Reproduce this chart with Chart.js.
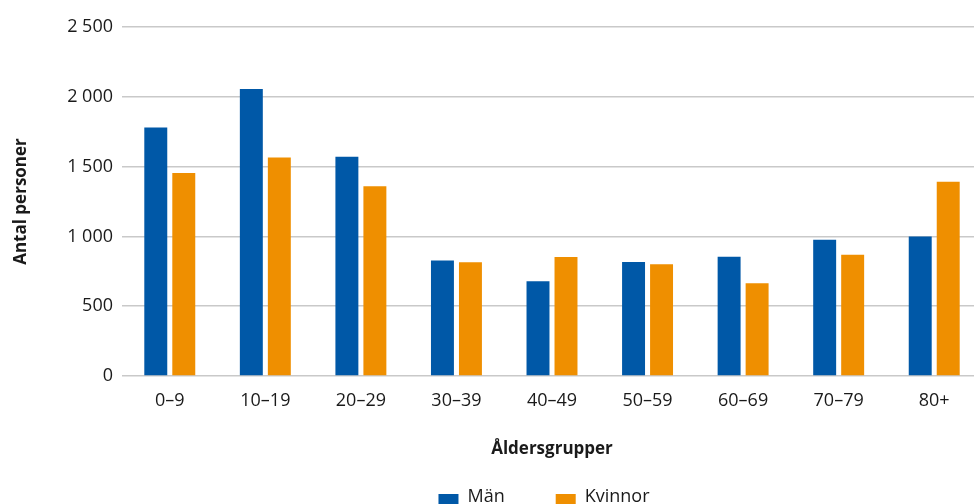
<!DOCTYPE html>
<html lang="sv">
<head>
<meta charset="utf-8">
<title>Antal personer per åldersgrupp</title>
<script src="https://cdn.jsdelivr.net/npm/chart.js@4.4.1/dist/chart.umd.min.js"></script>
<style>
  html, body { margin: 0; padding: 0; background: #fff; overflow: hidden; }
  #wrap { position: relative; width: 982px; height: 504px; }
</style>
</head>
<body>
<div id="wrap"><canvas id="chart"></canvas></div>
<script>
// Åldersgrupper och antal personer per kön
const categories = ['0–9', '10–19', '20–29', '30–39', '40–49', '50–59', '60–69', '70–79', '80+'];
const man      = [1780, 2055, 1570, 828, 678, 817, 855, 976, 1000];
const kvinnor  = [1455, 1565, 1360, 814, 852, 800, 664, 869, 1392];
const yTicks   = [0, 500, 1000, 1500, 2000, 2500];

const BLUE = '#0058a7';
const ORANGE = '#ef8f00';
const TEXT = '#1a1a1a';
const FONT = "'Open Sans', 'DejaVu Sans', sans-serif";

// Tusentalsavgränsare med mellanslag, t.ex. "2 500"
function fmt(v) {
  return String(v).replace(/\B(?=(\d{3})+(?!\d))/g, ' ');
}

// Förklaring under diagrammet, ritad på duken
const bottomLegend = {
  id: 'bottomLegend',
  afterDraw(chart) {
    const ctx = chart.ctx;
    const area = chart.chartArea;
    const box = 20, gapText = 9, gapItem = 51;
    ctx.save();
    ctx.font = '18px ' + FONT;
    ctx.textBaseline = 'middle';
    const items = chart.data.datasets.map(ds => ({
      text: ds.label, color: ds.backgroundColor, w: ctx.measureText(ds.label).width
    }));
    let total = 0;
    items.forEach((it, i) => { total += box + gapText + it.w + (i ? gapItem : 0); });
    let x = (area.left + area.right) / 2 - 8 - total / 2;
    const yBox = 494, yText = 497;
    items.forEach(it => {
      ctx.fillStyle = it.color;
      ctx.fillRect(x, yBox, box, box);
      x += box + gapText;
      ctx.fillStyle = TEXT;
      ctx.textAlign = 'left';
      ctx.fillText(it.text, x, yText);
      x += it.w + gapItem;
    });
    ctx.restore();
  }
};

new Chart(document.getElementById('chart'), {
  type: 'bar',
  data: {
    labels: categories,
    datasets: [
      { label: 'Män', data: man, backgroundColor: BLUE,
        categoryPercentage: 0.586, barPercentage: 0.82 },
      { label: 'Kvinnor', data: kvinnor, backgroundColor: ORANGE,
        categoryPercentage: 0.586, barPercentage: 0.82 }
    ]
  },
  options: {
    responsive: true,
    maintainAspectRatio: false,
    animation: false,
    layout: { padding: { top: 27, right: 0, bottom: 0, left: 0 } },
    plugins: {
      legend: { display: false },
      tooltip: { enabled: false }
    },
    scales: {
      x: {
        grid: { display: false, drawTicks: false },
        border: { display: false },
        ticks: { color: TEXT, font: { family: FONT, size: 18 }, padding: 14, maxRotation: 0 },
        title: {
          display: true, text: 'Åldersgrupper', color: TEXT,
          font: { family: FONT, size: 17, weight: 'bold' },
          padding: { top: 0, bottom: 45 }
        },
        afterFit(scale) { scale.height = 128; }
      },
      y: {
        min: 0, max: 2500,
        afterBuildTicks(scale) { scale.ticks = yTicks.map(v => ({ value: v })); },
        grid: { color: '#c9c9c9', lineWidth: 1.5, drawTicks: false },
        border: { display: false },
        ticks: {
          color: TEXT, font: { family: FONT, size: 18 }, padding: 9,
          callback: v => fmt(v)
        },
        title: {
          display: true, text: 'Antal personer', color: TEXT,
          font: { family: FONT, size: 17, weight: 'bold' },
          padding: { top: 11, bottom: 0 }
        },
        afterFit(scale) { scale.width = 122; }
      }
    }
  },
  plugins: [bottomLegend]
});
</script>
</body>
</html>
